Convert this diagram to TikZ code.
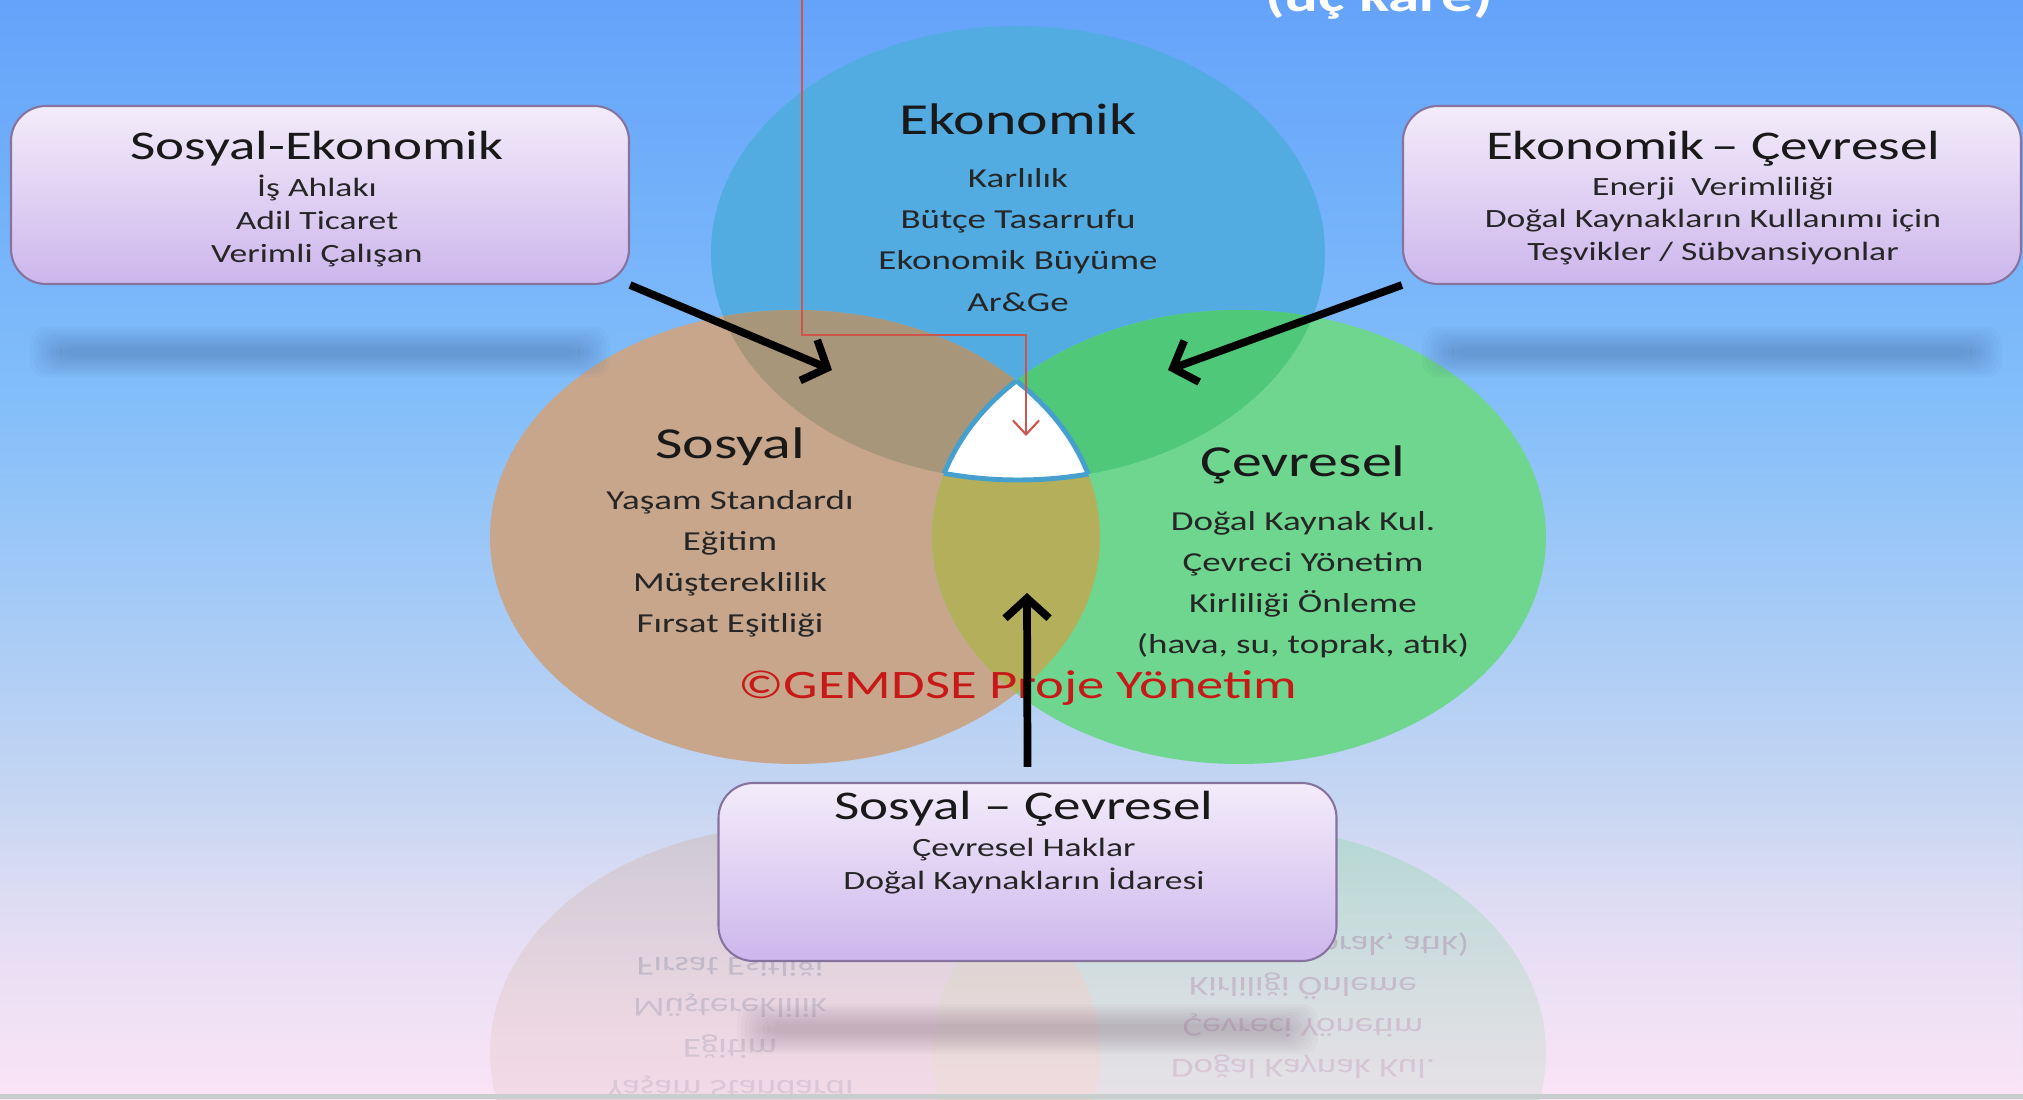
\documentclass[tikz,border=0pt]{standalone}
\usepackage{fontspec}
\setmainfont{Carlito}[FakeStretch=1.35]
\usetikzlibrary{arrows.meta,fadings}

\definecolor{bgtop}{RGB}{100,163,250}
\definecolor{bgmid}{RGB}{130,190,250}
\definecolor{bglow}{RGB}{200,215,242}
\definecolor{bgbot}{RGB}{250,228,246}
\definecolor{stripgray}{RGB}{200,205,205}
\definecolor{ekofill}{RGB}{82,172,226}
\definecolor{sosfill}{RGB}{200,166,140}
\definecolor{cevfill}{RGB}{110,214,142}
\definecolor{ekosos}{RGB}{168,150,122}
\definecolor{ekocev}{RGB}{80,200,122}
\definecolor{soscev}{RGB}{180,175,90}
\definecolor{rimblue}{RGB}{70,160,205}
\definecolor{boxtop}{RGB}{243,236,250}
\definecolor{boxbot}{RGB}{205,182,236}
\definecolor{boxline}{RGB}{135,115,160}
\definecolor{pathred}{RGB}{205,85,75}
\definecolor{markred}{RGB}{200,25,25}
\definecolor{barblue}{RGB}{60,90,140}
\definecolor{barmauve}{RGB}{120,95,115}

\pgfdeclareverticalshading{slidebg}{100bp}{color(0bp)=(bgbot); color(25bp)=(bgbot); color(38bp)=(bglow); color(57bp)=(bgmid); color(75bp)=(bgtop); color(100bp)=(bgtop)}

\newcommand{\ekopath}{(10.18,8.46) ellipse [x radius=3.07, y radius=2.27]}
\newcommand{\sospath}{(7.95,5.62) ellipse [x radius=3.05, y radius=2.27]}
\newcommand{\cevpath}{(12.39,5.62) ellipse [x radius=3.07, y radius=2.27]}
\newcommand{\soslist}{Yaşam Standardı\\Eğitim\\Müştereklilik\\Fırsat Eşitliği}
\newcommand{\cevlist}{Doğal Kaynak Kul.\\Çevreci Yönetim\\Kirliliği Önleme\\(hava, su, toprak, atık)}

\tikzset{
  vennhead/.style={font=\fontsize{12.6}{15}\selectfont, inner sep=0pt, text=black!90},
  vennitems/.style={font=\fontsize{7.8}{11.7}\selectfont, align=center, inner sep=0pt, text=black!85},
  infobox/.style={rounded corners=0.35cm, top color=boxtop, bottom color=boxbot, draw=boxline, line width=0.6pt, minimum width=6.18cm, minimum height=1.78cm, inner sep=0pt},
  boxhead/.style={font=\fontsize{11.6}{14}\selectfont, inner sep=0pt, text=black!90},
  boxitems/.style={font=\fontsize{7.5}{9.3}\selectfont, align=center, inner sep=0pt, text=black!85},
  bigarrow/.style={-{Straight Barb[length=2mm,width=4.4mm]}, line width=2.2pt},
  redpath/.style={pathred, line width=0.6pt, -{Straight Barb[length=1.4mm,width=2.6mm]}},
  rim/.style={draw=rimblue, line width=1.4pt}
}

\begin{document}
\begin{tikzpicture}
  \useasboundingbox (0,0) rectangle (20.23,10.99);
  \clip (0,0) rectangle (20.23,10.99);
  \shade[shading=slidebg] (0,0) rectangle (20.23,10.99);

  % reflection under the venn
  \begin{scope}[transparency group, opacity=0.3, shift={(0,6.08)}, yscale=-1]
    \fill[sosfill] \sospath;
    \fill[cevfill] \cevpath;
    \begin{scope}\clip \sospath; \fill[soscev] \cevpath;\end{scope}
    \node[vennitems, transform shape] (sosr) at (7.30,5.35) {\soslist};
    \node[vennitems, transform shape] (cevr) at (13.03,5.145) {\cevlist};
  \end{scope}
  \fill[bgbot, opacity=0.55, path fading=north] (0,0) rectangle (20.23,3.04);

  % title, cut at the top
  \node[font=\fontsize{13.3}{16}\selectfont\bfseries, text=white, anchor=base, inner sep=0pt] (title) at (13.79,10.87) {(üç kare)};

  % venn
  \fill[ekofill] \ekopath;
  \fill[sosfill] \sospath;
  \fill[cevfill] \cevpath;
  \begin{scope}\clip \ekopath; \fill[ekosos] \sospath;\end{scope}
  \begin{scope}\clip \ekopath; \fill[ekocev] \cevpath;\end{scope}
  \begin{scope}\clip \sospath; \fill[soscev] \cevpath;\end{scope}
  \begin{scope}\clip \ekopath; \clip \sospath; \fill[white] \cevpath;\end{scope}
  \begin{scope}\clip \ekopath; \clip \sospath; \draw[rim] \cevpath;\end{scope}
  \begin{scope}\clip \ekopath; \clip \cevpath; \draw[rim] \sospath;\end{scope}
  \begin{scope}\clip \sospath; \clip \cevpath; \draw[rim] \ekopath;\end{scope}

  \node[vennhead] (ekoh) at (10.18,9.80) {Ekonomik};
  \node[vennitems] (ekot) at (10.18,8.59) {Karlılık\\Bütçe Tasarrufu\\Ekonomik Büyüme\\Ar\&Ge};
  \node[vennhead] (sosh) at (7.30,6.52) {Sosyal};
  \node[vennitems] (sost) at (7.30,5.35) {\soslist};
  \node[vennhead] (cevh) at (13.03,6.34) {Çevresel};
  \node[vennitems] (cevt) at (13.03,5.145) {\cevlist};
  \node[font=\fontsize{11.5}{14}\selectfont, text=markred, inner sep=0pt] (mark) at (10.18,4.11) {©GEMDSE Proje Yönetim};

  % boxes
  \node[infobox] (seb) at (3.20,9.04) {};
  \node[boxhead] (sebh) at (3.17,9.50) {Sosyal-Ekonomik};
  \node[boxitems] (sebt) at (3.17,8.78) {İş Ahlakı\\Adil Ticaret\\Verimli Çalışan};

  \node[infobox] (ecb) at (17.12,9.04) {};
  \node[boxhead] (ecbh) at (17.13,9.50) {Ekonomik\,-- Çevresel};
  \node[boxitems] (ecbt) at (17.13,8.78) {Enerji\ \ Verimliliği\\Doğal Kaynakların Kullanımı için\\Teşvikler / Sübvansiyonlar};

  \node[infobox] (scb) at (10.275,2.27) {};
  \node[boxhead] (scbh) at (10.24,2.90) {Sosyal -- Çevresel};
  \node[boxitems] (scbt) at (10.24,2.33) {Çevresel Haklar\\Doğal Kaynakların İdaresi};

  % soft shadows below the boxes
  \foreach \b/\c in {seb/barblue, ecb/barblue, scb/barmauve}
    \foreach \d in {0,0.025,...,0.2}
      \fill[\c, opacity=0.04, rounded corners=0.15cm]
        ([xshift=0.2cm+1.5*\d*1cm, yshift=-0.42cm-\d*1cm]\b.south west) rectangle
        ([xshift=-0.2cm-1.5*\d*1cm, yshift=-0.92cm+\d*1cm]\b.south east);

  % arrows
  \coordinate (sosin) at (8.32,7.29);
  \coordinate (cevin) at (11.68,7.29);
  \coordinate (midin) at (10.27,5.06);
  \draw[bigarrow] (seb.south east) -- (sosin);
  \draw[bigarrow] (ecb.south west) -- (cevin);
  \draw[bigarrow] ([yshift=0.15cm]scb.north) -- (midin);

  \coordinate (redtop) at (8.02,11.2);
  \coordinate (redend) at (10.26,6.63);
  \draw[redpath] (redtop) |- ([yshift=1.01cm]redend) -- (redend);

  \fill[stripgray] (0,0) rectangle (20.23,0.05);
\end{tikzpicture}
\end{document}
